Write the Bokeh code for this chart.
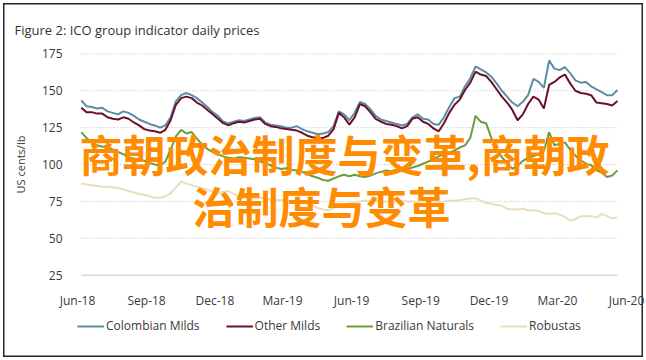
import pandas as pd
from bokeh.plotting import figure
from bokeh.layouts import column
from bokeh.models import FixedTicker, DatetimeTickFormatter, Legend, LegendItem, Label
from bokeh.embed import file_html
from bokeh.resources import INLINE

# ---------------- data (weekly readings, US cents/lb) ----------------
start_date = "2018-06-06"
colombian = [143.5, 139.5, 139, 138, 138.5, 136, 135, 134, 136, 135,
             133, 130.5, 129, 127.5, 126.5, 125, 126.5, 132, 143, 147,
             148.5, 147, 145, 142, 139, 135.5, 133, 129, 128, 129,
             130, 129.5, 130.5, 131.5, 132, 128.5, 127, 126.5, 126, 125,
             125, 126, 124, 122.5, 121.5, 120.5, 121, 122, 126, 136,
             134, 130, 135, 142.5, 141, 137.5, 133, 130.5, 129.5, 128.5,
             127.5, 126.5, 127.5, 132, 134, 131, 130.5, 127.5, 127, 132,
             139, 145, 146, 153, 158.5, 166.5, 164.5, 162.5, 159.5, 155,
             150, 146, 142, 139.5, 142.5, 147, 158, 156, 152, 170.5,
             165, 164, 166, 162, 157, 155.5, 156, 153, 151, 149,
             147, 147, 150.5]
other_milds = [138.5, 135.5, 135.5, 134.5, 134.5, 132, 131, 130.5, 132, 131,
               128.5, 126.5, 124, 123, 122.5, 121.5, 123.5, 130, 140.5, 145,
               146, 145, 142, 140, 137, 134, 131, 128, 126.5, 128,
               129, 128.5, 129.5, 130.5, 131, 127.5, 126, 125.5, 124.5, 124,
               123.5, 123, 121.5, 119.5, 118.5, 118, 118, 119.5, 124, 135,
               132, 127, 132, 141, 139.5, 135.5, 131, 129, 127.5, 127,
               126, 124.5, 126, 131, 132, 129, 127.5, 124.5, 122.5, 128,
               135, 140.5, 144, 150.5, 155.5, 163, 161, 160, 156, 151,
               146, 142, 137, 130, 134, 141, 146, 144, 138, 154,
               156, 159, 161, 155, 150, 148.5, 148, 147, 142, 141.5,
               141, 140, 143]
brazilian = [122, 118, 115, 113, 112, 112.5, 110, 108.5, 107, 105,
             104, 103, 102.5, 101, 100, 99, 102, 110, 119, 123.5,
             121, 122, 117.5, 113.5, 110.5, 108.5, 107, 105.5, 104.5, 104,
             105, 104.5, 104, 103.5, 102, 101, 99.5, 98, 97, 97.5,
             96.5, 96, 95, 93.5, 92, 91, 89.5, 89, 90.5, 92,
             93, 92, 93, 92, 91.5, 92.5, 94, 95, 96, 95.5,
             96.5, 96, 97, 98, 99, 100.5, 102, 104, 105.5, 107,
             108, 109.5, 111.5, 113, 118, 133, 129, 128, 118, 111,
             105, 101, 97, 99, 102.5, 104.5, 105.5, 107, 109, 122,
             113, 114, 115, 110, 106, 103, 100.5, 99.5, 96, 94.5,
             91.5, 92.5, 96]
robustas = [87, 86.5, 86, 85.5, 85, 85, 84.5, 84, 83, 82,
            81, 80, 79.5, 78.5, 77.5, 77.5, 78.5, 80.5, 84.5, 88.5,
            87, 86, 85, 84, 83, 81.5, 80.5, 81.5, 82, 80,
            78.5, 77.5, 77.5, 77, 77.5, 77, 76.5, 76, 76, 75.5,
            75.5, 75, 74.5, 73.5, 72.5, 70.5, 69.5, 69, 70.5, 72,
            73, 73.5, 74, 75, 75.5, 75, 75.5, 75, 75, 74.5,
            75, 75.5, 75, 75, 74.5, 75, 75.5, 75, 74.5, 75,
            75.5, 75.5, 76, 76.5, 77, 77, 75.5, 74, 73.5, 72.5,
            72, 70, 69.5, 69.5, 70, 69, 69, 68.5, 67, 66.5,
            67, 66, 64.5, 62, 63, 65, 65, 65, 64, 66.5,
            65, 63.5, 64]

series_names = ["Colombian Milds", "Other Milds", "Brazilian Naturals", "Robustas"]
series_colors = ["#5B8EA2", "#6D0F2E", "#6B9E3E", "#E9DEBB"]
y_ticks = [25, 50, 75, 100, 125, 150, 175]
x_tick_dates = ["2018-06-01", "2018-09-01", "2018-12-01", "2019-03-01", "2019-06-01",
                "2019-09-01", "2019-12-01", "2020-03-01", "2020-06-01"]
x_tick_labels = ["Jun-18", "Sep-18", "Dec-18", "Mar-19", "Jun-19",
                 "Sep-19", "Dec-19", "Mar-20", "Jun-20"]
title_text = "Figure 2: ICO group indicator daily prices"
y_label = "US cents/lb"
overlay_lines = ["商朝政治制度与变革,商朝政", "治制度与变革"]

FONT = "Open Sans"
TXT = "#3a3a3a"
W = 646

dates = pd.date_range(start_date, periods=len(colombian), freq="7D")
series = [colombian, other_milds, brazilian, robustas]

# ---------------- main chart ----------------
p = figure(width=W, height=311, x_axis_type="datetime",
           x_range=(pd.Timestamp("2018-05-29 08:00"), pd.Timestamp("2020-06-06 08:00")),
           y_range=(20, 180), output_backend="svg", toolbar_location=None,
           min_border_left=75, min_border_right=16, min_border_top=46, min_border_bottom=24)
p.border_fill_alpha = 0
p.xgrid.visible = False
p.ygrid.visible = False
p.outline_line_color = None
p.background_fill_color = "white"

p.title.text = title_text
p.title.align = "left"
p.title.offset = -61
p.title.standoff = 15
p.title.text_font = FONT
p.title.text_font_size = "13px"
p.title.text_font_style = "normal"
p.title.text_color = "#333333"

grid_vals = y_ticks[1:]
p.segment(x0=[dates[0]] * len(grid_vals), x1=[dates[-1]] * len(grid_vals),
          y0=grid_vals, y1=grid_vals, line_color="#BDBDBD", line_width=1, line_dash="1 2")
p.segment(x0=[dates[0]], x1=[dates[-1]], y0=[y_ticks[0]], y1=[y_ticks[0]],
          line_color="#D9D9D9", line_width=1.5)

for vals, col in zip(series, series_colors):
    p.line(dates, vals, line_color=col, line_width=2)

tick_ms = [pd.Timestamp(d).value / 1e6 for d in x_tick_dates]
p.xaxis.ticker = FixedTicker(ticks=tick_ms)
p.xaxis.formatter = DatetimeTickFormatter(months="%b-%y", days="%b-%y", years="%b-%y",
                                          hours="%b-%y", minutes="%b-%y")
p.xaxis.major_label_overrides = {t: lab for t, lab in zip(tick_ms, x_tick_labels)}
p.xaxis.axis_line_color = None
p.xaxis.major_tick_line_color = None
p.xaxis.minor_tick_line_color = None
p.xaxis.major_label_standoff = 3
p.xaxis.major_label_text_font = FONT
p.xaxis.major_label_text_font_size = "12px"
p.xaxis.major_label_text_color = TXT

p.yaxis.ticker = FixedTicker(ticks=y_ticks)
p.yaxis.axis_line_color = None
p.yaxis.major_tick_line_color = None
p.yaxis.minor_tick_line_color = None
p.yaxis.major_label_standoff = 7
p.yaxis.major_label_text_font = FONT
p.yaxis.major_label_text_font_size = "12px"
p.yaxis.major_label_text_color = TXT
p.yaxis.axis_label = y_label
p.yaxis.axis_label_standoff = 11
p.yaxis.axis_label_text_font = FONT
p.yaxis.axis_label_text_font_style = "normal"
p.yaxis.axis_label_text_font_size = "11px"
p.yaxis.axis_label_text_color = TXT

# overlay watermark text (frame-relative screen position: x from left, y up from bottom)
p.add_layout(Label(x=4, y=130, x_units="screen", y_units="screen", text=overlay_lines[0],
                   text_font="Noto Sans CJK SC", text_font_size="43px", text_font_style="bold",
                   text_color="#FF8C00", text_baseline="middle"))
p.add_layout(Label(x=117, y=78, x_units="screen", y_units="screen", text=overlay_lines[1],
                   text_font="Noto Sans CJK SC", text_font_size="43px", text_font_style="bold",
                   text_color="#FF8C00", text_baseline="middle"))

# ---------------- legend strip below the chart ----------------
lf = figure(width=W, height=49, x_range=(0, 1), y_range=(0, 1),
            output_backend="svg", toolbar_location=None,
            x_axis_location=None, y_axis_location=None,
            min_border_left=75, min_border_right=16, min_border_top=0, min_border_bottom=0)
lf.grid.visible = False
lf.outline_line_color = None
lf.background_fill_alpha = 0
lf.border_fill_alpha = 0
keys = [lf.line(dates, vals, line_color=col, line_width=2) for vals, col in zip(series, series_colors)]
legend = Legend(items=[LegendItem(label=n, renderers=[r]) for n, r in zip(series_names, keys)],
                orientation="horizontal", location=(2, 26),
                background_fill_alpha=0, border_line_color=None,
                label_text_font=FONT, label_text_font_size="12px", label_text_color=TXT,
                glyph_width=27, glyph_height=16, label_height=16, label_standoff=2,
                spacing=26, padding=0, margin=0)
lf.add_layout(legend)

layout = column(p, lf, spacing=0,
                styles={"box-shadow": "inset 0 0 0 3px #ffffff, inset 0 0 0 4.5px #262626"})

open("out.html", "w").write(file_html(layout, INLINE))
